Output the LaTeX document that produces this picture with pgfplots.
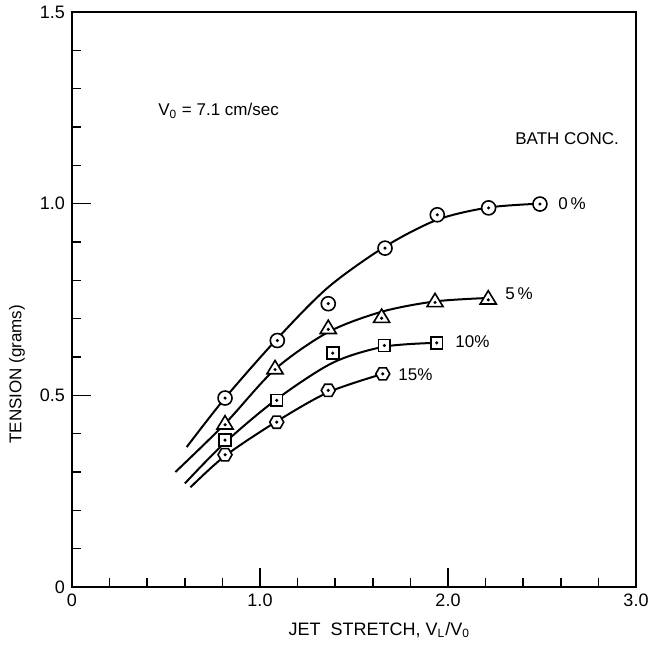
\documentclass[border=0pt]{standalone}
\usepackage{fontspec}
\setmainfont{Liberation Sans}
\usepackage{pgfplots}
\pgfplotsset{compat=1.18}

\pgfdeclareplotmark{ocirc}{%
  \pgfpathcircle{\pgfpointorigin}{\pgfplotmarksize}%
  \pgfusepathqfillstroke
  \pgfpathcircle{\pgfpointorigin}{0.3pt}%
  \pgfusepathqstroke}
\pgfdeclareplotmark{otri}{%
  \pgfpathmoveto{\pgfpoint{0pt}{1.15\pgfplotmarksize}}%
  \pgfpathlineto{\pgfpoint{-1.15\pgfplotmarksize}{-0.75\pgfplotmarksize}}%
  \pgfpathlineto{\pgfpoint{1.15\pgfplotmarksize}{-0.75\pgfplotmarksize}}%
  \pgfpathclose
  \pgfusepathqfillstroke
  \pgfpathcircle{\pgfpoint{0pt}{-0.15\pgfplotmarksize}}{0.3pt}%
  \pgfusepathqstroke}
\pgfdeclareplotmark{osq}{%
  \pgfpathrectanglecorners{\pgfpoint{-0.85\pgfplotmarksize}{-0.85\pgfplotmarksize}}{\pgfpoint{0.85\pgfplotmarksize}{0.85\pgfplotmarksize}}%
  \pgfusepathqfillstroke
  \pgfpathcircle{\pgfpointorigin}{0.3pt}%
  \pgfusepathqstroke}
\pgfdeclareplotmark{ohex}{%
  \pgfpathmoveto{\pgfpointpolar{0}{\pgfplotmarksize}}%
  \pgfpathlineto{\pgfpointpolar{60}{\pgfplotmarksize}}%
  \pgfpathlineto{\pgfpointpolar{120}{\pgfplotmarksize}}%
  \pgfpathlineto{\pgfpointpolar{180}{\pgfplotmarksize}}%
  \pgfpathlineto{\pgfpointpolar{240}{\pgfplotmarksize}}%
  \pgfpathlineto{\pgfpointpolar{300}{\pgfplotmarksize}}%
  \pgfpathclose
  \pgfusepathqfillstroke
  \pgfpathcircle{\pgfpointorigin}{0.3pt}%
  \pgfusepathqstroke}

\begin{document}
\begin{tikzpicture}
\useasboundingbox (-36pt,-30pt) rectangle (289.5pt,293.5pt);
\begin{axis}[
  scale only axis, width=282pt, height=287.5pt,
  xmin=0, xmax=3, ymin=0, ymax=1.5,
  axis line style={line width=1pt},
  xtick={0,1,2,3}, xticklabels={0,1.0,2.0,3.0},
  minor x tick num=4,
  ytick={0,0.5,1,1.5}, yticklabels={0,0.5,1.0,1.5},
  minor y tick num=4,
  tick align=inside, xtick pos=bottom, ytick pos=left,
  major tick length=9.5pt, minor tick length=4.5pt,
  tick style={line width=0.8pt, black},
  font=\fontsize{8.5}{10}\selectfont,
  ticklabel style={font=\fontsize{9}{10}\selectfont},
  xlabel={JET\ \ STRETCH, V\textsubscript{L}/V\textsubscript{0}},
  ylabel={TENSION (grams)},
  xlabel style={at={(axis description cs:0.545,-0.075)}, anchor=center, font=\fontsize{9}{10}\selectfont},
  ylabel style={at={(axis description cs:-0.0975,0.37)}, anchor=center, font=\fontsize{8.5}{10}\selectfont},
  mark size=3.5pt,
  clip=false,
]
% fitted curves
\addplot[smooth, line width=1pt, black] coordinates {(0.61,0.365) (0.814,0.493) (1.092,0.648) (1.363,0.782) (1.665,0.888) (1.943,0.958) (2.216,0.990) (2.489,1.0)};
\addplot[smooth, line width=1pt, black] coordinates {(0.55,0.30) (0.814,0.426) (1.08,0.568) (1.363,0.665) (1.647,0.718) (1.931,0.745) (2.214,0.754)};
\addplot[smooth, line width=1pt, black] coordinates {(0.60,0.27) (0.814,0.377) (1.089,0.49) (1.387,0.585) (1.661,0.627) (1.94,0.637)};
\addplot[smooth, line width=1pt, black] coordinates {(0.63,0.26) (0.814,0.342) (1.089,0.432) (1.363,0.508) (1.653,0.556)};
% data points
\addplot[only marks, mark=ocirc, mark options={fill=white, line width=0.8pt}] coordinates {(0.814,0.493) (1.092,0.643) (1.363,0.739) (1.665,0.884) (1.943,0.971) (2.216,0.989) (2.489,0.999)};
\addplot[only marks, mark=otri, mark options={fill=white, line width=0.8pt}] coordinates {(0.814,0.426) (1.08,0.570) (1.363,0.675) (1.647,0.704) (1.931,0.745) (2.214,0.752)};
\addplot[only marks, mark=osq, mark options={fill=white, line width=0.8pt}] coordinates {(0.814,0.383) (1.089,0.487) (1.387,0.610) (1.661,0.630) (1.94,0.637)};
\addplot[only marks, mark=ohex, mark options={fill=white, line width=0.8pt}] coordinates {(0.814,0.345) (1.089,0.430) (1.363,0.513) (1.653,0.556)};
% annotations
\node[anchor=west, inner sep=0pt] at (axis cs:0.457,1.242) {V\textsubscript{0} = 7.1 cm/sec};
\node[anchor=west, inner sep=0pt] at (axis cs:2.356,1.169) {BATH CONC.};
\node[anchor=west, inner sep=0pt] at (axis cs:2.585,1.0) {0\,\%};
\node[anchor=west, inner sep=0pt] at (axis cs:2.303,0.766) {5\,\%};
\node[anchor=west, inner sep=0pt] at (axis cs:2.037,0.639) {10\%};
\node[anchor=west, inner sep=0pt] at (axis cs:1.734,0.555) {15\%};
\end{axis}
\end{tikzpicture}
\end{document}
